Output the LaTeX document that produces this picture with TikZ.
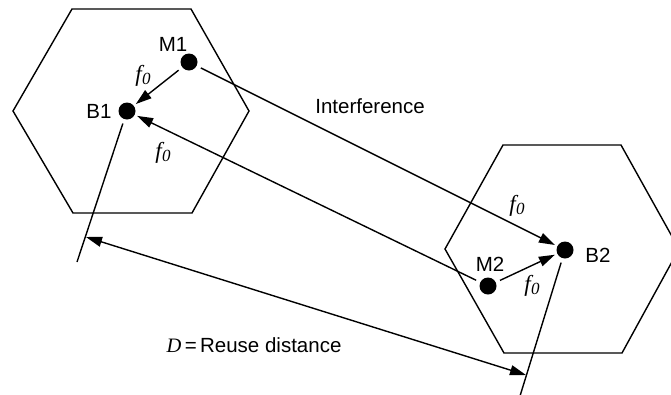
\documentclass[tikz,border=0pt]{standalone}
\usepackage{fontspec}
\setmainfont{Liberation Sans}
\newfontfamily\serifit{Liberation Serif}
\usetikzlibrary{arrows.meta,positioning}
\newcommand{\fzero}{{\fontsize{23}{26}\selectfont\serifit\itshape f\kern0.5pt\raisebox{-3pt}{\fontsize{17}{17}\selectfont 0}}}

\begin{document}
\begin{tikzpicture}[
  x=1pt, y=-1pt,
  font=\fontsize{20.5}{24}\selectfont,
  line width=1.4pt,
  station/.style={circle, fill=black, inner sep=0pt, minimum size=17pt},
  tag/.style={inner sep=1pt},
  arr/.style={-{Triangle[length=16pt,width=10pt]}, shorten <=4pt, shorten >=2pt},
  dbl/.style={{Triangle[length=16pt,width=10pt]}-{Triangle[length=16pt,width=10pt]}}
]
\useasboundingbox (0,0) rectangle (671,394);
% cells
\draw (13,111) -- (72,9) -- (191,9) -- (249,111) -- (192,213) -- (73,213) -- cycle;
\draw (445,249) -- (503,145) -- (621,145) -- (679,249) -- (622,353) -- (504,353) -- cycle;
% base stations and mobiles
\node[station] (b1) at (127,111) {};
\node[station] (m1) at (189,62) {};
\node[station] (b2) at (565,250) {};
\node[station] (m2) at (488,286) {};
\node[tag] (b1lbl) at (99,111) {B1};
\node[tag] (m1lbl) at (173,44) {M1};
\node[tag] (b2lbl) at (598,255) {B2};
\node[tag] (m2lbl) at (490,264) {M2};
% links
\draw[arr] (m1) -- (b1);
\draw[arr] (m1) -- (b2);
\draw[arr] (m2) -- (b1);
\draw[arr] (m2) -- (b2);
\node[tag] (f1) at (143,76) {\fzero};
\node[tag] (f2) at (163,153) {\fzero};
\node[tag] (f3) at (517,206) {\fzero};
\node[tag] (f4) at (532,286) {\fzero};
\node[tag] (intf) at (370,106) {Interference};
% reuse distance
\coordinate (t1) at (77,262);
\coordinate (t2) at (520,396);
\draw[shorten <=4pt] (b1) -- (t1);
\draw[shorten <=4pt] (b2) -- (t2);
\coordinate (d1) at (86,237);
\coordinate (d2) at (526,375);
\draw[dbl] (d1) -- (d2);
\node[tag] (reuse) at (254,345) {{\serifit\itshape D}\,=\,Reuse distance};
\end{tikzpicture}
\end{document}
